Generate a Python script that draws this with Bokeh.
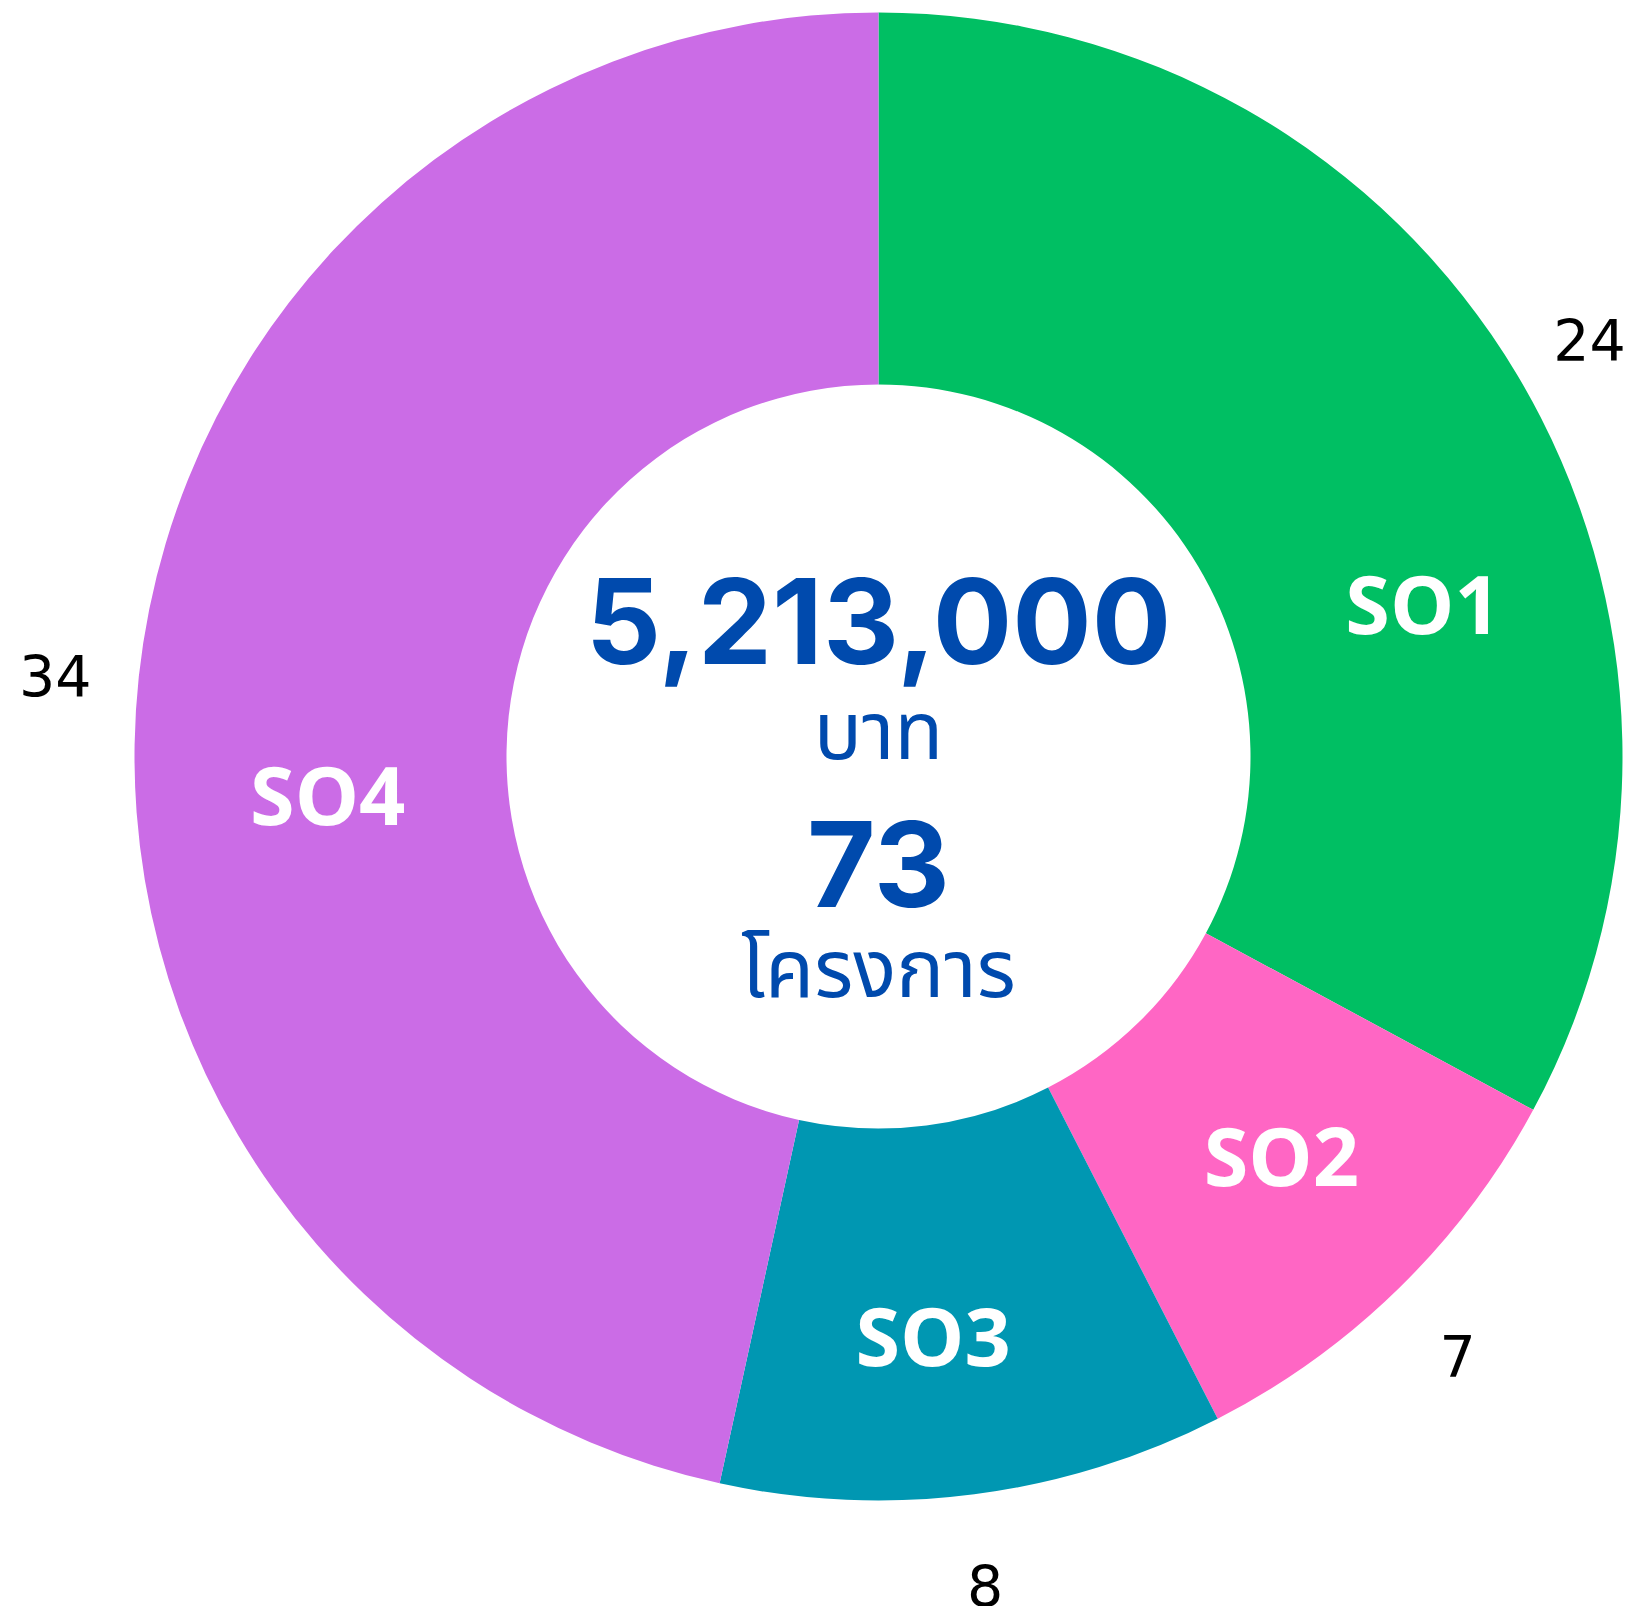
import math
from bokeh.plotting import figure
from bokeh.models import Range1d, ColumnDataSource
from bokeh.core.properties import value
from bokeh.embed import file_html
from bokeh.resources import INLINE

# ---- data ----
categories = ["SO1", "SO2", "SO3", "SO4"]
counts = [24, 7, 8, 34]
colors = ["#00BF63", "#FF66C4", "#0097B2", "#CB6CE6"]
total_budget = "5,213,000"
budget_unit = "บาท"
project_unit = "โครงการ"

# ---- layout (pixels) ----
W, H = 1625, 1606
CX, CY = 878, 756           # donut centre in page pixels
R_OUT, R_IN = 744, 372
R_NUM = 828                 # outer value labels
cat_radius = [566, 566, 581, 552]
cat_nudge_deg = [15, -1, 2, -10]


def Y(py):
    return CY - py


total = sum(counts)
total_projects = str(total)

starts, ends, mids = [], [], []
acc = 0
for c in counts:
    a0 = acc / total * 2 * math.pi
    acc += c
    a1 = acc / total * 2 * math.pi
    starts.append(math.pi / 2 - a0)
    ends.append(math.pi / 2 - a1)
    mids.append((a0 + a1) / 2)

src = ColumnDataSource(dict(start=starts, end=ends, color=colors,
                            x=[0] * 4, y=[0] * 4))

p = figure(width=W, height=H, output_backend="svg", toolbar_location=None,
           x_range=Range1d(-CX, W - CX),
           y_range=Range1d(CY - H, CY),
           min_border=0, match_aspect=False)
p.axis.visible = False
p.grid.visible = False
p.outline_line_color = None
p.background_fill_color = "white"
p.border_fill_color = "white"

p.annular_wedge(x="x", y="y", inner_radius=R_IN, outer_radius=R_OUT,
                start_angle="start", end_angle="end", direction="clock",
                fill_color="color", line_color=None, source=src)

# outer value labels
nx = [R_NUM * math.sin(m) for m in mids]
ny = [R_NUM * math.cos(m) for m in mids]
p.text(x=nx, y=ny, text=[str(c) for c in counts], text_align="center",
       text_baseline="middle", y_offset=8, text_font=value("DejaVu Sans"),
       text_font_size="57px", text_color="#000000")

# inner category labels
ca = [m + math.radians(d) for m, d in zip(mids, cat_nudge_deg)]
cx = [r * math.sin(a) for r, a in zip(cat_radius, ca)]
cy = [r * math.cos(a) for r, a in zip(cat_radius, ca)]
p.text(x=cx, y=cy, text=categories, text_align="center",
       text_baseline="middle", text_font=value("Open Sans"),
       text_font_style="bold", text_font_size="81px", text_color="white")

blue = "#004AAD"
thai = value("'Noto Sans Thai', 'Noto Sans Thai UI', 'Noto Sans', sans-serif")
p.text(x=[0], y=[Y(620)], text=[total_budget], text_align="center",
       text_baseline="middle", text_font=value("Inter"),
       text_font_style="bold", text_font_size="118px", text_color=blue)
p.text(x=[0], y=[Y(734)], text=[budget_unit], text_align="center",
       text_baseline="middle", text_font=thai,
       text_font_size="80px", text_color=blue)
p.text(x=[0], y=[Y(863)], text=[total_projects], text_align="center",
       text_baseline="middle", text_font=value("Inter"),
       text_font_style="bold", text_font_size="118px", text_color=blue)
p.text(x=[0], y=[Y(972)], text=[project_unit], text_align="center",
       text_baseline="middle", text_font=thai,
       text_font_size="80px", text_color=blue)

open("out.html", "w").write(file_html(p, INLINE))
